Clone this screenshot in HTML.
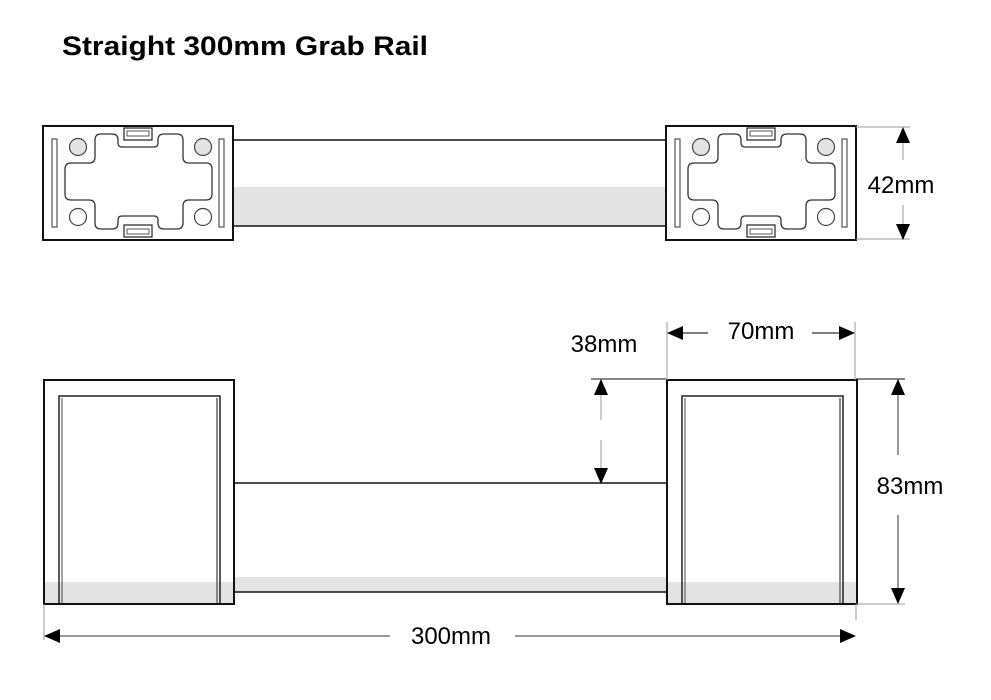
<!DOCTYPE html>
<html><head><meta charset="utf-8"><style>
html,body{margin:0;padding:0;background:#fff;width:991px;height:700px;overflow:hidden}
svg{display:block}
text{font-family:"Liberation Sans",Arial,sans-serif}
</style></head><body>
<svg width="991" height="700" viewBox="0 0 991 700" xmlns="http://www.w3.org/2000/svg">
<defs>
<g id="holder">
  <rect x="43" y="126" width="190" height="114" fill="#fff" stroke="#111" stroke-width="2"/>
  <rect x="52" y="139" width="5" height="88" fill="#fff" stroke="#555" stroke-width="1.2"/>
  <rect x="219" y="139" width="5" height="88" fill="#fff" stroke="#555" stroke-width="1.2"/>
  <circle cx="78" cy="147" r="8.5" fill="#e3e3e3" stroke="#444" stroke-width="1.2"/>
  <circle cx="203" cy="147" r="8.5" fill="#e3e3e3" stroke="#444" stroke-width="1.2"/>
  <circle cx="78" cy="217" r="8.5" fill="#fff" stroke="#444" stroke-width="1.2"/>
  <circle cx="203" cy="217" r="8.5" fill="#fff" stroke="#444" stroke-width="1.2"/>
  <path d="M95,140 Q95,134 101,134 L112,134 Q118,134 118,140 L118,143 Q118,147 122,147 L154,147 Q158,147 158,143 L158,140 Q158,134 164,134 L177,134 Q183,134 183,140 L183,157 Q183,163 189,163 L206,163 Q212,163 212,169 L212,194 Q212,200 206,200 L189,200 Q183,200 183,206 L183,223 Q183,229 177,229 L164,229 Q158,229 158,223 L158,220 Q158,216 154,216 L122,216 Q118,216 118,220 L118,223 Q118,229 112,229 L101,229 Q95,229 95,223 L95,206 Q95,200 89,200 L71,200 Q65,200 65,194 L65,169 Q65,163 71,163 L89,163 Q95,163 95,157 Z" fill="#fff" stroke="#333" stroke-width="1.3"/>
  <rect x="124" y="128" width="28" height="12" fill="#fff" stroke="#333" stroke-width="1.3"/>
  <rect x="127" y="131" width="22" height="5" fill="#fff" stroke="#555" stroke-width="1"/>
  <rect x="124" y="225" width="28" height="12" fill="#fff" stroke="#333" stroke-width="1.3"/>
  <rect x="127" y="229" width="22" height="5" fill="#fff" stroke="#555" stroke-width="1"/>
</g>
<g id="front">
  <rect x="44" y="380" width="190" height="224" fill="#fff" stroke="#111" stroke-width="2"/>
  <rect x="45" y="582" width="188" height="22" fill="#e3e3e3"/>
  <path d="M59,604 L59,396 L220,396 L220,604" fill="none" stroke="#222" stroke-width="1.5"/>
  <line x1="62" y1="398" x2="62" y2="604" stroke="#444" stroke-width="1"/>
  <line x1="217" y1="398" x2="217" y2="604" stroke="#888" stroke-width="2"/>
  <line x1="44" y1="604" x2="234" y2="604" stroke="#111" stroke-width="2"/>
</g>
<marker id="ah" markerWidth="16" markerHeight="14" refX="15" refY="7" orient="auto" markerUnits="userSpaceOnUse">
  <path d="M0,0 L16,7 L0,14 Z" fill="#000"/>
</marker>
</defs>

<text x="62" y="55" font-size="27" font-weight="bold" fill="#000" textLength="366" lengthAdjust="spacingAndGlyphs">Straight 300mm Grab Rail</text>

<rect x="233" y="187" width="433" height="39" fill="#e3e3e3"/>
<line x1="233" y1="140" x2="666" y2="140" stroke="#111" stroke-width="1.5"/>
<line x1="233" y1="226" x2="666" y2="226" stroke="#111" stroke-width="1.5"/>
<use href="#holder"/>
<use href="#holder" transform="translate(623,0)"/>

<!-- 42mm -->
<line x1="856" y1="127" x2="910" y2="127" stroke="#999" stroke-width="1"/>
<line x1="856" y1="239" x2="910" y2="239" stroke="#999" stroke-width="1"/>
<line x1="903" y1="160" x2="903" y2="128" stroke="#999" stroke-width="1" marker-end="url(#ah)"/>
<line x1="903" y1="205" x2="903" y2="239" stroke="#999" stroke-width="1" marker-end="url(#ah)"/>
<text x="901" y="193" font-size="24" text-anchor="middle" fill="#000">42mm</text>

<rect x="234" y="577" width="432" height="15" fill="#e3e3e3"/>
<line x1="234" y1="483" x2="666" y2="483" stroke="#111" stroke-width="1.5"/>
<line x1="234" y1="592" x2="666" y2="592" stroke="#111" stroke-width="1.5"/>
<use href="#front"/>
<use href="#front" transform="translate(623,0)"/>

<!-- 70mm -->
<line x1="667" y1="322" x2="667" y2="380" stroke="#999" stroke-width="1"/>
<line x1="855" y1="322" x2="855" y2="380" stroke="#999" stroke-width="1"/>
<line x1="708" y1="333" x2="668" y2="333" stroke="#000" stroke-width="1" marker-end="url(#ah)"/>
<line x1="812" y1="333" x2="854" y2="333" stroke="#000" stroke-width="1" marker-end="url(#ah)"/>
<text x="761" y="339" font-size="24" text-anchor="middle" fill="#000">70mm</text>

<!-- 38mm -->
<line x1="591" y1="379" x2="666" y2="379" stroke="#111" stroke-width="1"/>
<line x1="601" y1="420" x2="601" y2="380" stroke="#999" stroke-width="1" marker-end="url(#ah)"/>
<line x1="601" y1="440" x2="601" y2="483" stroke="#999" stroke-width="1" marker-end="url(#ah)"/>
<text x="604" y="352" font-size="24" text-anchor="middle" fill="#000">38mm</text>

<!-- 83mm -->
<line x1="856" y1="379" x2="905" y2="379" stroke="#111" stroke-width="1"/>
<line x1="856" y1="604" x2="905" y2="604" stroke="#999" stroke-width="1"/>
<line x1="856" y1="604" x2="856" y2="620" stroke="#999" stroke-width="1"/>
<line x1="898" y1="455" x2="898" y2="380" stroke="#333" stroke-width="1" marker-end="url(#ah)"/>
<line x1="898" y1="515" x2="898" y2="603" stroke="#333" stroke-width="1" marker-end="url(#ah)"/>
<text x="910" y="494" font-size="24" text-anchor="middle" fill="#000">83mm</text>

<!-- 300mm -->
<line x1="44" y1="604" x2="44" y2="640" stroke="#999" stroke-width="1"/>
<line x1="390" y1="636" x2="45" y2="636" stroke="#333" stroke-width="1" marker-end="url(#ah)"/>
<line x1="515" y1="636" x2="855" y2="636" stroke="#333" stroke-width="1" marker-end="url(#ah)"/>
<text x="451" y="644" font-size="24" text-anchor="middle" fill="#000">300mm</text>
</svg>
</body></html>
